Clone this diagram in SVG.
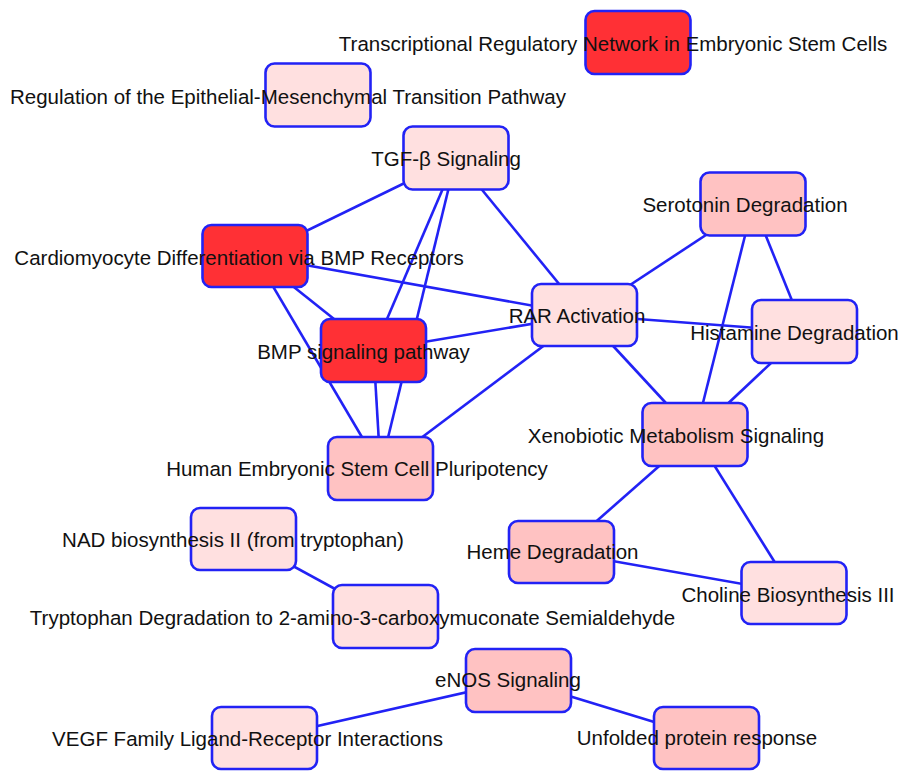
<svg xmlns="http://www.w3.org/2000/svg" width="901" height="771" viewBox="0 0 901 771">
<style>
.n rect{stroke:#2222F5;stroke-width:2.6}
.hi{fill:#FF3035}
.lo{fill:#FFE0E0}
.md{fill:#FFC2C2}
.n text{font-family:"Liberation Sans",Arial,sans-serif;font-size:20.5px;fill:#111;text-anchor:middle}
#edges line{stroke:#2222F5;stroke-width:2.6}
</style>
<rect width="901" height="771" fill="#fff"/>
<g id="edges">
<line x1="456" y1="158" x2="255" y2="256"/>
<line x1="456" y1="158" x2="373.5" y2="350.5"/>
<line x1="456" y1="158" x2="380.5" y2="468.5"/>
<line x1="456" y1="158" x2="584.5" y2="315"/>
<line x1="255" y1="256" x2="373.5" y2="350.5"/>
<line x1="255" y1="256" x2="380.5" y2="468.5"/>
<line x1="255" y1="256" x2="584.5" y2="315"/>
<line x1="373.5" y1="350.5" x2="380.5" y2="468.5"/>
<line x1="373.5" y1="350.5" x2="584.5" y2="315"/>
<line x1="380.5" y1="468.5" x2="584.5" y2="315"/>
<line x1="584.5" y1="315" x2="753" y2="204"/>
<line x1="584.5" y1="315" x2="804.5" y2="331.5"/>
<line x1="584.5" y1="315" x2="695" y2="434.5"/>
<line x1="753" y1="204" x2="695" y2="434.5"/>
<line x1="753" y1="204" x2="804.5" y2="331.5"/>
<line x1="804.5" y1="331.5" x2="695" y2="434.5"/>
<line x1="695" y1="434.5" x2="561.5" y2="552"/>
<line x1="695" y1="434.5" x2="794" y2="593"/>
<line x1="561.5" y1="552" x2="794" y2="593"/>
<line x1="243.5" y1="539" x2="385.5" y2="616.5"/>
<line x1="518.5" y1="680.5" x2="264.5" y2="738"/>
<line x1="518.5" y1="680.5" x2="706.5" y2="738"/>
</g>
<g id="n-transcriptional" class="n"><rect class="hi" x="585.5" y="11" width="105" height="63" rx="9"/><text x="613" y="51">Transcriptional Regulatory Network in Embryonic Stem Cells</text></g>
<g id="n-emt" class="n"><rect class="lo" x="265.5" y="63.5" width="105" height="63" rx="9"/><text x="288" y="104">Regulation of the Epithelial-Mesenchymal Transition Pathway</text></g>
<g id="n-tgf" class="n"><rect class="lo" x="403.5" y="126.5" width="105" height="63" rx="9"/><text x="446" y="166">TGF-β Signaling</text></g>
<g id="n-cardio" class="n"><rect class="hi" x="202.5" y="225" width="105" height="62" rx="9"/><text x="239" y="265">Cardiomyocyte Differentiation via BMP Receptors</text></g>
<g id="n-serotonin" class="n"><rect class="md" x="700.5" y="172.5" width="105" height="63" rx="9"/><text x="745" y="212">Serotonin Degradation</text></g>
<g id="n-bmp" class="n"><rect class="hi" x="321" y="319" width="105" height="63" rx="9"/><text x="363.5" y="359">BMP signaling pathway</text></g>
<g id="n-rar" class="n"><rect class="lo" x="532" y="284" width="105" height="62" rx="9"/><text x="577" y="323">RAR Activation</text></g>
<g id="n-histamine" class="n"><rect class="lo" x="752" y="300" width="105" height="63" rx="9"/><text x="794.5" y="340">Histamine Degradation</text></g>
<g id="n-hesc" class="n"><rect class="md" x="328" y="437" width="105" height="63" rx="9"/><text x="357" y="476">Human Embryonic Stem Cell Pluripotency</text></g>
<g id="n-xeno" class="n"><rect class="md" x="642.5" y="403" width="105" height="63" rx="9"/><text x="676" y="443">Xenobiotic Metabolism Signaling</text></g>
<g id="n-nad" class="n"><rect class="lo" x="191" y="508" width="105" height="62" rx="9"/><text x="233" y="547">NAD biosynthesis II (from tryptophan)</text></g>
<g id="n-heme" class="n"><rect class="md" x="509" y="521" width="105" height="62" rx="9"/><text x="552.5" y="559">Heme Degradation</text></g>
<g id="n-choline" class="n"><rect class="lo" x="741.5" y="562" width="105" height="62" rx="9"/><text x="788" y="602">Choline Biosynthesis III</text></g>
<g id="n-tryptophan" class="n"><rect class="lo" x="333" y="585" width="105" height="63" rx="9"/><text x="352.5" y="625">Tryptophan Degradation to 2-amino-3-carboxymuconate Semialdehyde</text></g>
<g id="n-enos" class="n"><rect class="md" x="466" y="649" width="105" height="63" rx="9"/><text x="508" y="687">eNOS Signaling</text></g>
<g id="n-vegf" class="n"><rect class="lo" x="212" y="707" width="105" height="62" rx="9"/><text x="247.5" y="746">VEGF Family Ligand-Receptor Interactions</text></g>
<g id="n-unfolded" class="n"><rect class="md" x="654" y="707" width="105" height="62" rx="9"/><text x="697" y="745">Unfolded protein response</text></g>
</svg>
